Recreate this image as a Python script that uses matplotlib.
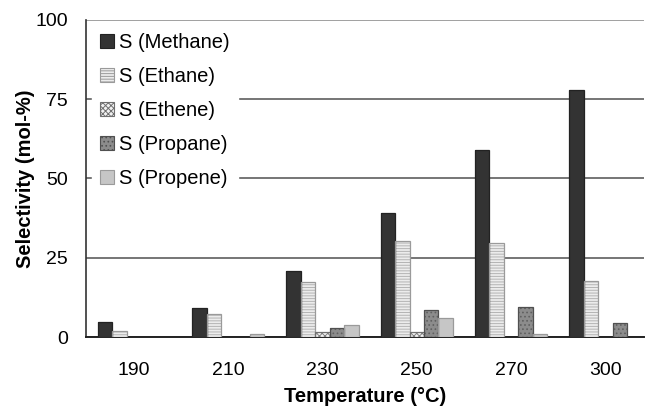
import matplotlib.pyplot as plt
import numpy as np

plt.rcParams['font.family'] = ['Liberation Sans', 'DejaVu Sans']
plt.rcParams['hatch.linewidth'] = 0.7

temps = ["190", "210", "230", "250", "270", "300"]
methane = [4.7, 9.2, 20.7, 39.1, 58.9, 77.7]
ethane = [1.9, 7.3, 17.4, 30.2, 29.6, 17.6]
ethene = [0.0, 0.0, 1.7, 1.7, 0.0, 0.0]
propane = [0.0, 0.0, 2.9, 8.6, 9.6, 4.5]
propene = [0.0, 1.0, 3.9, 6.1, 0.9, 0.0]

series = [methane, ethane, ethene, propane, propene]
labels = ["S (Methane)", "S (Ethane)", "S (Ethene)", "S (Propane)", "S (Propene)"]
colors = ["#333333", "#ececec", "#f2f2f2", "#8c8c8c", "#c6c6c6"]
hatches = [None, "------", "xxxxxx", "....", None]
hatch_cols = ["#333333", "#b4b4b4", "#808080", "#606060", "#c6c6c6"]
edge_cols = ["#222222", "#9a9a9a", "#707070", "#505050", "#9a9a9a"]

fig = plt.figure(figsize=(6.45, 4.11), dpi=100)
ax = fig.add_axes([86 / 645, 74 / 411, 558 / 645, 317.3 / 411])

index = np.arange(len(temps))
width = 0.153

for i in range(5):
    x = index + width * (i - 2)
    vals = np.array(series[i])
    m = vals > 0
    ax.bar(x[m], vals[m], width, color=colors[i], hatch=hatches[i],
           edgecolor=hatch_cols[i], linewidth=0, zorder=3)
    ax.bar(x[m], vals[m], width, fill=False, edgecolor=edge_cols[i],
           linewidth=0.9, zorder=4)
    ax.bar([np.nan], [0], width, color=colors[i], hatch=hatches[i],
           edgecolor=edge_cols[i], linewidth=0.8, label=labels[i])

ax.set_xlim(-0.509, 5.41)
ax.set_ylim(0, 100)
ax.set_yticks([0, 25, 50, 75, 100])
ax.set_xticks(index)
ax.set_xticklabels(temps)
ax.yaxis.grid(True, color="#6a6a6a", linewidth=1.3, zorder=0)
ax.get_ygridlines()[-1].set_color("#999999")
ax.set_axisbelow(True)
ax.spines['top'].set_visible(False)
ax.spines['right'].set_visible(False)
ax.spines['left'].set_linewidth(1.2)
ax.spines['left'].set_color("#333333")
ax.spines['bottom'].set_linewidth(1.4)
ax.spines['bottom'].set_color("#222222")
ax.tick_params(axis='y', length=0, labelsize=14, pad=13)
ax.tick_params(axis='x', length=0, labelsize=14, pad=18)

ax.set_xlabel("Temperature (°C)", fontsize=14.5, fontweight='bold', labelpad=6)
ax.set_ylabel("Selectivity (mol-%)", fontsize=14.5, fontweight='bold', labelpad=0)

leg = ax.legend(loc="upper left", bbox_to_anchor=(92 / 645, 386 / 411),
                bbox_transform=fig.transFigure, borderaxespad=0,
                frameon=True, fontsize=14.5, handlelength=0.7,
                handleheight=0.7, handletextpad=0.25, labelspacing=0.75,
                borderpad=0.4, fancybox=False)
leg.get_frame().set_edgecolor("white")
leg.get_frame().set_facecolor("white")
leg.get_frame().set_alpha(1)
leg.set_zorder(5)

plt.savefig("out.png", dpi=100)
